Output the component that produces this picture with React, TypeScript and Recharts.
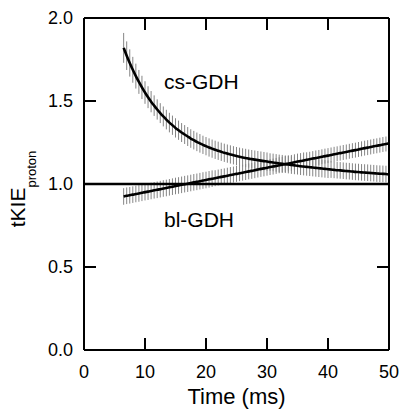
import React from "react";
import { ComposedChart, Line, ErrorBar, XAxis, YAxis, ReferenceLine } from "recharts";

const FONT = "'Liberation Sans', Arial, Helvetica, sans-serif";

const timeMs = [
  6.5, 7, 7.5, 8, 8.5, 9, 9.5, 10, 10.5, 11, 11.5, 12, 12.5, 13, 13.5, 14, 14.5, 15, 15.5, 16,
  16.5, 17, 17.5, 18, 18.5, 19, 19.5, 20, 20.5, 21, 21.5, 22, 22.5, 23, 23.5, 24, 24.5, 25, 25.5, 26,
  26.5, 27, 27.5, 28, 28.5, 29, 29.5, 30, 30.5, 31, 31.5, 32, 32.5, 33, 33.5, 34, 34.5, 35, 35.5, 36,
  36.5, 37, 37.5, 38, 38.5, 39, 39.5, 40, 40.5, 41, 41.5, 42, 42.5, 43, 43.5, 44, 44.5, 45, 45.5, 46,
  46.5, 47, 47.5, 48, 48.5, 49, 49.5, 50,
];

// cs-GDH fit
const csValues = [
  1.82, 1.773, 1.729, 1.688, 1.65, 1.615, 1.582, 1.551, 1.523, 1.496, 1.472, 1.449, 1.427, 1.407, 1.388, 1.37, 1.354, 1.338, 1.324, 1.31,
  1.298, 1.286, 1.274, 1.264, 1.254, 1.245, 1.236, 1.228, 1.22, 1.213, 1.206, 1.2, 1.194, 1.188, 1.183, 1.178, 1.173, 1.168, 1.164, 1.16,
  1.157, 1.153, 1.15, 1.147, 1.144, 1.141, 1.138, 1.135, 1.132, 1.13, 1.127, 1.124, 1.122, 1.119, 1.117, 1.114, 1.112, 1.11, 1.107, 1.105,
  1.103, 1.101, 1.099, 1.097, 1.095, 1.093, 1.091, 1.089, 1.087, 1.085, 1.083, 1.082, 1.08, 1.078, 1.077, 1.075, 1.073, 1.072, 1.07, 1.069,
  1.068, 1.066, 1.065, 1.063, 1.062, 1.061, 1.06, 1.058,
];

const csErrors = [
  0.09, 0.086, 0.082, 0.078, 0.075, 0.072, 0.07, 0.068, 0.066, 0.064, 0.062, 0.061, 0.06, 0.06, 0.059, 0.059, 0.058, 0.058, 0.058, 0.057,
  0.057, 0.057, 0.056, 0.056, 0.056, 0.056, 0.055, 0.055, 0.055, 0.055, 0.055, 0.055, 0.055, 0.055, 0.055, 0.055, 0.055, 0.055, 0.055, 0.055,
  0.055, 0.055, 0.055, 0.055, 0.055, 0.055, 0.055, 0.055, 0.053, 0.053, 0.053, 0.053, 0.053, 0.053, 0.053, 0.053, 0.053, 0.053, 0.053, 0.053,
  0.053, 0.053, 0.053, 0.053, 0.053, 0.053, 0.053, 0.053, 0.05, 0.05, 0.05, 0.05, 0.05, 0.05, 0.05, 0.05, 0.05, 0.05, 0.05, 0.05,
  0.05, 0.05, 0.05, 0.05, 0.05, 0.05, 0.05, 0.05,
];

// bl-GDH fit
const blValues = [
  0.925, 0.929, 0.932, 0.936, 0.94, 0.943, 0.947, 0.951, 0.954, 0.958, 0.962, 0.965, 0.969, 0.973, 0.976, 0.98, 0.984, 0.988, 0.991, 0.995,
  0.999, 1.002, 1.006, 1.01, 1.013, 1.017, 1.021, 1.024, 1.028, 1.032, 1.035, 1.039, 1.043, 1.046, 1.05, 1.054, 1.057, 1.061, 1.065, 1.068,
  1.072, 1.076, 1.079, 1.083, 1.087, 1.091, 1.094, 1.098, 1.102, 1.105, 1.109, 1.113, 1.116, 1.12, 1.124, 1.127, 1.131, 1.135, 1.138, 1.142,
  1.146, 1.149, 1.153, 1.157, 1.16, 1.164, 1.168, 1.171, 1.175, 1.179, 1.182, 1.186, 1.19, 1.193, 1.197, 1.201, 1.204, 1.208, 1.212, 1.216,
  1.219, 1.223, 1.227, 1.23, 1.234, 1.238, 1.241, 1.245,
];

const blErrors = [
  0.05, 0.05, 0.05, 0.05, 0.05, 0.05, 0.05, 0.05, 0.05, 0.05, 0.05, 0.05, 0.05, 0.05, 0.05, 0.05, 0.05, 0.05, 0.05, 0.05,
  0.05, 0.05, 0.05, 0.05, 0.05, 0.05, 0.05, 0.05, 0.05, 0.05, 0.048, 0.048, 0.048, 0.048, 0.048, 0.048, 0.048, 0.048, 0.048, 0.048,
  0.048, 0.048, 0.048, 0.048, 0.048, 0.048, 0.048, 0.048, 0.048, 0.048, 0.048, 0.048, 0.048, 0.048, 0.048, 0.048, 0.048, 0.048, 0.048, 0.048,
  0.045, 0.045, 0.045, 0.045, 0.045, 0.045, 0.045, 0.045, 0.045, 0.045, 0.045, 0.045, 0.045, 0.045, 0.045, 0.045, 0.045, 0.045, 0.045, 0.045,
  0.045, 0.045, 0.045, 0.045, 0.045, 0.045, 0.045, 0.045,
];

const xTicks = [0, 10, 20, 30, 40, 50];
const yTicks = [0, 0.5, 1, 1.5, 2];
const X_DOMAIN = [0, 50];
const Y_DOMAIN = [0, 2];

const data = timeMs.map((t, i) => ({
  t,
  cs: csValues[i],
  csErr: csErrors[i],
  bl: blValues[i],
  blErr: blErrors[i],
}));

const MARGIN = { top: 18, right: 11, bottom: 0, left: 0 };
const axisStroke = { stroke: "#000", strokeWidth: 2 };
const tickStyle = { fill: "#000", fontSize: 18, fontFamily: FONT };
const yFormatter = (v: number) => v.toFixed(1);
const blank = () => "";

// axis titles and curve names
function Titles() {
  return (
    <g fontFamily={FONT} fill="#000">
      <text x={25} y={189} transform="rotate(-90, 25, 189)" textAnchor="middle">
        <tspan fontSize={21}>tKIE</tspan>
        <tspan fontSize={13} dy={11}>proton</tspan>
      </text>
      <text x={164} y={89} fontSize={21}>cs-GDH</text>
      <text x={164} y={227} fontSize={21}>bl-GDH</text>
    </g>
  );
}

function XTitle() {
  return (
    <text x={236.5} y={404} textAnchor="middle" fontFamily={FONT} fontSize={22} fill="#000">
      Time (ms)
    </text>
  );
}

const xTitle = <XTitle />;
const yTitle = <Titles />;

export default function App() {
  return (
    <div style={{ position: "absolute", left: 0, top: 0, width: 400, height: 409, background: "#fff", fontFamily: FONT }}>
      <ComposedChart width={400} height={409} data={data} margin={MARGIN}>
        <XAxis
          dataKey="t"
          type="number"
          domain={X_DOMAIN}
          ticks={xTicks}
          height={59}
          tickSize={0}
          tickMargin={15}
          axisLine={axisStroke}
          tickLine={false}
          tick={tickStyle}
          label={xTitle}
        />
        <YAxis
          type="number"
          domain={Y_DOMAIN}
          ticks={yTicks}
          width={84}
          tickSize={0}
          tickMargin={11}
          axisLine={axisStroke}
          tickLine={false}
          tick={tickStyle}
          tickFormatter={yFormatter}
          label={yTitle}
        />
        {/* mirrored axes give the inward ticks and the top/right frame */}
        <XAxis xAxisId="bt" dataKey="t" mirror type="number" domain={X_DOMAIN} ticks={xTicks} tickSize={12} axisLine={false} tickLine={axisStroke} tickFormatter={blank} />
        <XAxis xAxisId="top" dataKey="t" orientation="top" mirror type="number" domain={X_DOMAIN} ticks={xTicks} tickSize={12} axisLine={axisStroke} tickLine={axisStroke} tickFormatter={blank} />
        <YAxis yAxisId="lt" mirror type="number" domain={Y_DOMAIN} ticks={yTicks} tickSize={12} axisLine={false} tickLine={axisStroke} tickFormatter={blank} />
        <YAxis yAxisId="right" orientation="right" mirror type="number" domain={Y_DOMAIN} ticks={yTicks} tickSize={12} axisLine={axisStroke} tickLine={axisStroke} tickFormatter={blank} />
        <Line xAxisId="bt" yAxisId="lt" dataKey="cs" stroke="none" dot={false} activeDot={false} isAnimationActive={false} />
        <Line xAxisId="top" yAxisId="right" dataKey="bl" stroke="none" dot={false} activeDot={false} isAnimationActive={false} />

        <Line dataKey="cs" stroke="none" dot={false} activeDot={false} isAnimationActive={false}>
          <ErrorBar dataKey="csErr" width={0} stroke="#858585" strokeWidth={1} isAnimationActive={false} />
        </Line>
        <Line dataKey="bl" stroke="none" dot={false} activeDot={false} isAnimationActive={false}>
          <ErrorBar dataKey="blErr" width={0} stroke="#858585" strokeWidth={1} isAnimationActive={false} />
        </Line>
        <ReferenceLine y={1} stroke="#000" strokeWidth={2.5} />
        <Line type="monotone" dataKey="cs" stroke="#000" strokeWidth={2.6} dot={false} activeDot={false} isAnimationActive={false} />
        <Line type="monotone" dataKey="bl" stroke="#000" strokeWidth={2.6} dot={false} activeDot={false} isAnimationActive={false} />
      </ComposedChart>
    </div>
  );
}
